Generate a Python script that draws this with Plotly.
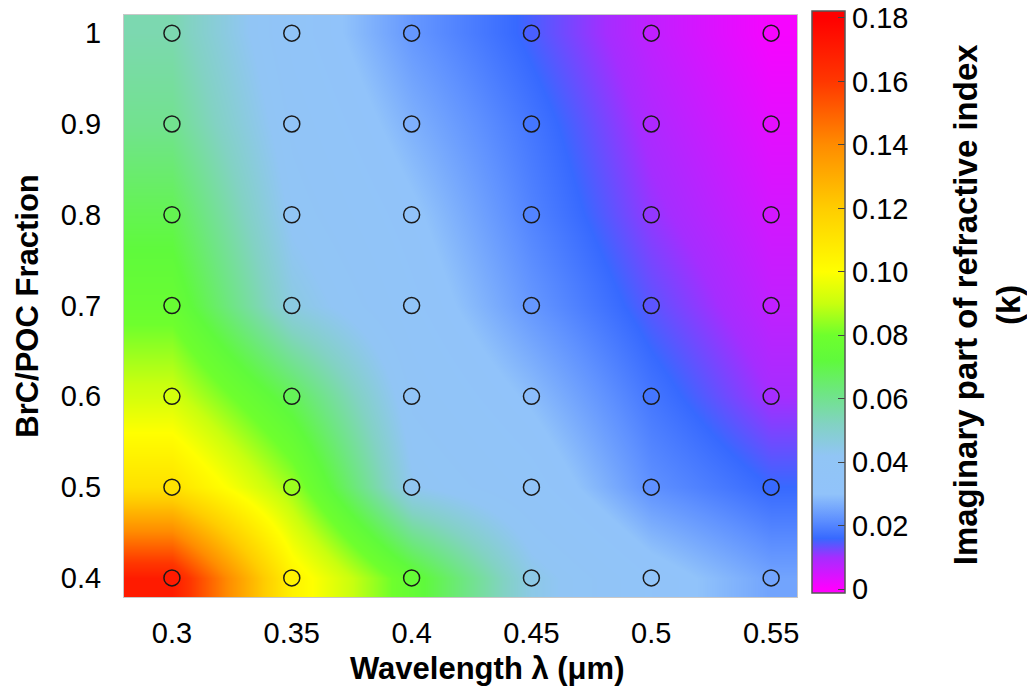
import plotly.graph_objects as go

# Data
wavelength = [0.30, 0.35, 0.40, 0.45, 0.50, 0.55]
fraction = [0.4, 0.5, 0.6, 0.7, 0.8, 0.9, 1.0]

# k values: rows = fraction (0.4 .. 1.0), cols = wavelength (0.30 .. 0.55)
k_04 = [0.170, 0.105, 0.075, 0.045, 0.033, 0.025]
k_05 = [0.112, 0.085, 0.043, 0.035, 0.022, 0.016]
k_06 = [0.092, 0.068, 0.038, 0.029, 0.018, 0.010]
k_07 = [0.077, 0.046, 0.034, 0.023, 0.014, 0.007]
k_08 = [0.069, 0.041, 0.031, 0.020, 0.011, 0.005]
k_09 = [0.060, 0.038, 0.027, 0.018, 0.009, 0.003]
k_10 = [0.055, 0.035, 0.023, 0.015, 0.007, 0.001]
k_grid = [k_04, k_05, k_06, k_07, k_08, k_09, k_10]

x_ticks = [0.3, 0.35, 0.4, 0.45, 0.5, 0.55]
x_ticktext = ["0.3", "0.35", "0.4", "0.45", "0.5", "0.55"]
y_ticks = [0.4, 0.5, 0.6, 0.7, 0.8, 0.9, 1.0]
y_ticktext = ["0.4", "0.5", "0.6", "0.7", "0.8", "0.9", "1"]
cb_ticks = [0, 0.02, 0.04, 0.06, 0.08, 0.10, 0.12, 0.14, 0.16, 0.18]
cb_ticktext = ["0", "0.02", "0.04", "0.06", "0.08", "0.10", "0.12", "0.14", "0.16", "0.18"]

# colour range of the bar (bar runs a hair beyond 0 and 0.18)
ZMIN, ZMAX = -0.0012, 0.1822
stops = [
    (ZMIN, "rgb(255,0,255)"),
    (0.000, "rgb(255,0,255)"),
    (0.010, "rgb(165,45,255)"),
    (0.016, "rgb(55,105,255)"),
    (0.022, "rgb(95,145,255)"),
    (0.030, "rgb(145,195,250)"),
    (0.042, "rgb(145,197,245)"),
    (0.052, "rgb(130,210,195)"),
    (0.062, "rgb(110,230,130)"),
    (0.072, "rgb(95,250,60)"),
    (0.080, "rgb(110,255,45)"),
    (0.090, "rgb(200,255,15)"),
    (0.100, "rgb(255,255,0)"),
    (0.120, "rgb(255,205,0)"),
    (0.140, "rgb(255,140,0)"),
    (0.160, "rgb(255,55,0)"),
    (0.180, "rgb(255,0,0)"),
    (ZMAX, "rgb(255,0,0)"),
]
colorscale = [[(v - ZMIN) / (ZMAX - ZMIN), c] for v, c in stops]

FONT = "Liberation Sans, Arial, sans-serif"

fig = go.Figure()
fig.add_trace(go.Heatmap(
    x=wavelength, y=fraction, z=k_grid,
    zsmooth="best", zmin=ZMIN, zmax=ZMAX, colorscale=colorscale,
    colorbar=dict(
        x=1.0223, xanchor="left", xpad=0,
        y=0.5069, yanchor="middle", len=1.0, lenmode="fraction", ypad=0,
        thickness=33, thicknessmode="pixels",
        outlinecolor="#555555", outlinewidth=1.5,
        tickvals=cb_ticks, ticktext=cb_ticktext,
        ticks="inside", ticklen=7, tickcolor="#444444",
        tickfont=dict(family=FONT, size=29, color="black"),
    ),
    hoverinfo="skip",
))

px, py, pz = [], [], []
for j, row in enumerate(k_grid):
    for i, v in enumerate(row):
        px.append(wavelength[i]); py.append(fraction[j]); pz.append(v)

fig.add_trace(go.Scatter(
    x=px, y=py, mode="markers",
    marker=dict(size=16, color=pz, cmin=ZMIN, cmax=ZMAX, colorscale=colorscale,
                showscale=False, line=dict(color="#1a1a1a", width=1.5)),
    showlegend=False, hoverinfo="skip",
))

fig.add_annotation(
    text="<b>Imaginary part of refractive index<br>(k)</b>", textangle=-90,
    xref="paper", yref="paper", x=1.2823, y=0.503, xanchor="center", yanchor="middle",
    showarrow=False, font=dict(family=FONT, size=33, color="black"),
)
fig.add_annotation(
    text="<b>Wavelength λ (μm)</b>",
    xref="paper", yref="paper", x=0.5394, y=-0.122, xanchor="center", yanchor="middle",
    showarrow=False, font=dict(family=FONT, size=31, color="black"),
)

fig.update_layout(
    width=1027, height=691,
    margin=dict(l=124, r=230, t=15, b=94, autoexpand=False),
    paper_bgcolor="white", plot_bgcolor="white",
    font=dict(family=FONT, size=29, color="black"),
    xaxis=dict(range=[0.28, 0.5608], tickvals=x_ticks, ticktext=x_ticktext,
               showgrid=False, zeroline=False, ticks="", ticklabelstandoff=10,
               tickfont=dict(size=29),
               showline=True, mirror=True, linecolor="#c8c8c8", linewidth=1),
    yaxis=dict(range=[0.379, 1.02], tickvals=y_ticks, ticktext=y_ticktext,
               showgrid=False, zeroline=False, ticks="", ticklabelstandoff=16,
               tickfont=dict(size=29),
               showline=True, mirror=True, linecolor="#c8c8c8", linewidth=1,
               title=dict(text="<b>BrC/POC Fraction</b>", font=dict(size=31), standoff=13)),
)

fig.write_html("out.html", config={"displayModeBar": False},
               post_script="document.body.style.margin='0';")
